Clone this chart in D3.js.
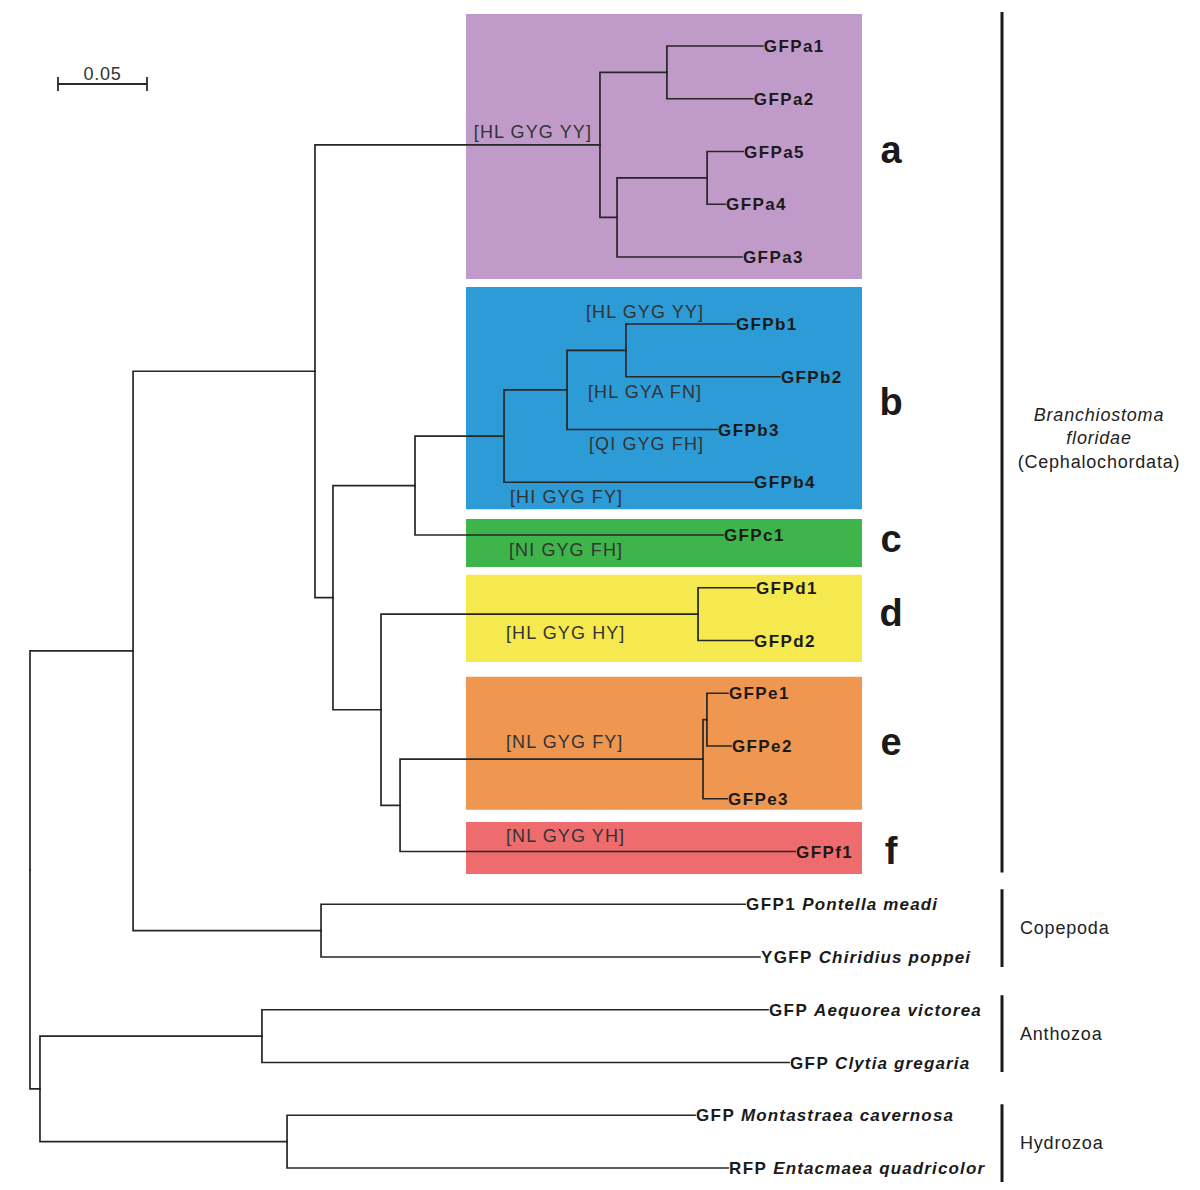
<!DOCTYPE html>
<html><head><meta charset="utf-8">
<script src="https://cdn.jsdelivr.net/npm/d3@7"></script>
<style>body{margin:0;background:#fff} svg{display:block}</style>
</head><body><svg id="c" width="1200" height="1190"></svg>
<script>
// ---------- DATA ----------
// Tree topology: node id, parent id, branch length (substitutions / site)
const nodeIds = ["root","A","C","a","a12","GFPa1","GFPa2","a345","a45","GFPa5","GFPa4","GFPa3",
  "D","bc","b","b123","b12","GFPb1","GFPb2","GFPb3","GFPb4","GFPc1",
  "def","d","GFPd1","GFPd2","ef","e","e12","GFPe1","GFPe2","GFPe3","GFPf1",
  "cope","Pontella","Chiridius","B","anth","Aequorea","Clytia","hydro","Montastraea","Entacmaea"];
const parentIds = ["","root","A","C","a","a12","a12","a","a345","a45","a45","a345",
  "C","D","bc","b","b123","b12","b12","b123","b","bc",
  "D","def","d","d","def","ef","e","e12","e12","e","ef",
  "A","cope","cope","root","B","anth","anth","B","hydro","hydro"];
const branchLengths = [0,0.0579,0.1022,0.1601,0.0376,0.0539,0.0483,0.0096,0.0506,0.0202,0.0101,0.0702,
  0.0101,0.0461,0.0500,0.0354,0.0331,0.0612,0.0865,0.0843,0.1399,0.1730,
  0.0270,0.1781,0.0320,0.0309,0.0107,0.1702,0.0022,0.0118,0.0135,0.0135,0.2219,
  0.1056,0.2382,0.2466,0.0056,0.1247,0.2843,0.2961,0.1388,0.2292,0.2478];

// Leaf labels
const leafIds     = ["Pontella","Chiridius","Aequorea","Clytia","Montastraea","Entacmaea"];
const leafPrefix  = ["GFP1","YGFP","GFP","GFP","GFP","RFP"];
const leafSpecies = ["Pontella meadi","Chiridius poppei","Aequorea victorea","Clytia gregaria","Montastraea cavernosa","Entacmaea quadricolor"];

// Clades of Branchiostoma GFPs
const cladeLetters = ["a","b","c","d","e","f"];
const cladeNodes   = ["a","b","GFPc1","d","e","GFPf1"];
const cladeColors  = ["#c09bc9","#2c9bd6","#3db54a","#f6e84f","#ef9650","#ee6c6e"];

// Chromophore-region motifs
const motifNodes = ["a","GFPb1","GFPb2","GFPb3","GFPb4","GFPc1","d","e","GFPf1"];
const motifTexts = ["[HL GYG YY]","[HL GYG YY]","[HL GYA FN]","[QI GYG FH]","[HI GYG FY]","[NI GYG FH]","[HL GYG HY]","[NL GYG FY]","[NL GYG YH]"];

// Taxonomic groups (first leaf, last leaf)
const groupFirst = ["GFPa1","Pontella","Aequorea","Montastraea"];
const groupLast  = ["GFPf1","Chiridius","Clytia","Entacmaea"];
const groupNames = [["Branchiostoma","floridae","(Cephalochordata)"],["Copepoda"],["Anthozoa"],["Hydrozoa"]];

const scaleBarValue = 0.05;

// ---------- LAYOUT ----------
const svg = d3.select("#c");
const x = d3.scaleLinear().domain([0, scaleBarValue]).range([30, 119]);
const rowStep = 52.75, firstRowY = 46, cladeAGap = 14.25;
const rowY = d3.scaleLinear().domain([0, 1]).range([firstRowY, firstRowY + rowStep]);

const table = nodeIds.map((id, i) => ({id, parent: parentIds[i] || null, len: branchLengths[i]}));
const root = d3.stratify().id(d => d.id).parentId(d => d.parent)(table);
root.eachBefore(n => { n.dist = (n.parent ? n.parent.dist : 0) + n.data.len; n.px = x(n.dist); });
root.leaves().forEach((l, i) => { l.py = rowY(i) + (i >= 5 ? cladeAGap : 0); });
root.eachAfter(n => { if (n.children) n.py = (n.children[0].py + n.children[n.children.length - 1].py) / 2; });
const byId = new Map(root.descendants().map(n => [n.id, n]));
const extent = n => d3.extent(n.leaves(), l => l.py);

// clade boxes
const boxPad = {a:[32,22], b:[37,27], c:[16,32], d:[13,21.5], e:[16.5,11], f:[29.5,22.5]};
const letterDy = {a:11, b:12, c:17, d:12, e:9, f:12};
const boxX0 = 466, boxX1 = 862;
cladeLetters.forEach((c, i) => {
  const [y0, y1] = extent(byId.get(cladeNodes[i]));
  svg.append("rect").attr("x", boxX0).attr("y", y0 - boxPad[c][0])
    .attr("width", boxX1 - boxX0).attr("height", (y1 + boxPad[c][1]) - (y0 - boxPad[c][0]))
    .attr("fill", cladeColors[i]);
  svg.append("text").attr("x", 891).attr("y", (y0 + y1) / 2 + letterDy[c])
    .attr("text-anchor", "middle").attr("font-family", "Liberation Sans, Arial, sans-serif")
    .attr("font-weight", "bold").attr("font-size", 38).attr("fill", "#1a1a1a").text(c);
});

// branches (elbow links)
svg.append("g").selectAll("path").data(root.descendants().filter(n => n.parent)).join("path")
  .attr("d", n => `M${n.parent.px},${n.parent.py}V${n.py}H${n.px}`)
  .attr("fill", "none").attr("stroke", "#262626").attr("stroke-width", 1.7)
  .attr("stroke-linecap", "square");

// leaf labels
const labelFont = "Liberation Sans, Arial, sans-serif";
const lg = svg.append("g").attr("font-family", labelFont).attr("font-weight", "bold")
  .attr("font-size", 17).attr("letter-spacing", 1.4).attr("fill", "#1a1a1a");
root.leaves().forEach(l => {
  const t = lg.append("text").attr("x", l.px + 1).attr("y", l.py + 6);
  const k = leafIds.indexOf(l.id);
  if (k < 0) t.text(l.id);
  else {
    t.append("tspan").text(leafPrefix[k] + " ");
    t.append("tspan").attr("font-style", "italic").attr("letter-spacing", 1.15).text(leafSpecies[k]);
  }
});

// motif labels
const motifPos = {
  "a": {x: 592, anchor: "end", dy: -7},
  "GFPb1": {x: 586, anchor: "start", dy: -6},
  "GFPb2": {x: 588, anchor: "start", dy: 21},
  "GFPb3": {x: 589, anchor: "start", dy: 20},
  "GFPb4": {x: 510, anchor: "start", dy: 21},
  "GFPc1": {x: 509, anchor: "start", dy: 21},
  "d": {x: 506, anchor: "start", dy: 25},
  "e": {x: 506, anchor: "start", dy: -11},
  "GFPf1": {x: 506, anchor: "start", dy: -10}
};
const mg = svg.append("g").attr("font-family", labelFont).attr("font-size", 18)
  .attr("letter-spacing", 1.1).attr("fill", "#333");
motifNodes.forEach((id, i) => {
  const n = byId.get(id), p = motifPos[id];
  mg.append("text").attr("x", p.x).attr("y", n.py + p.dy).attr("text-anchor", p.anchor).text(motifTexts[i]);
});

// taxonomic group brackets
const groupPad = [[34, 21], [15, 10], [14.5, 9.5], [11, 14]];
const gg = svg.append("g").attr("font-family", labelFont).attr("font-size", 18)
  .attr("letter-spacing", 0.8).attr("fill", "#222");
groupNames.forEach((lines, i) => {
  const y0 = byId.get(groupFirst[i]).py - groupPad[i][0];
  const y1 = byId.get(groupLast[i]).py + groupPad[i][1];
  svg.append("line").attr("x1", 1002).attr("x2", 1002).attr("y1", y0).attr("y2", y1)
    .attr("stroke", "#1a1a1a").attr("stroke-width", 3);
  if (lines.length === 1) {
    gg.append("text").attr("x", 1020).attr("y", (y0 + y1) / 2 + 6).text(lines[0]);
  } else {
    const cy = 438;
    lines.forEach((s, j) => {
      gg.append("text").attr("x", 1099).attr("y", cy + (j - 1) * 23.5 + 6)
        .attr("text-anchor", "middle").attr("font-style", j < 2 ? "italic" : "normal").text(s);
    });
  }
});

// scale bar
const sbX = 58, sbY = 84, sbW = x(scaleBarValue) - x(0);
const sb = svg.append("g").attr("stroke", "#2b2b2b").attr("stroke-width", 1.8);
sb.append("line").attr("x1", sbX).attr("x2", sbX + sbW).attr("y1", sbY).attr("y2", sbY);
sb.append("line").attr("x1", sbX).attr("x2", sbX).attr("y1", sbY - 7).attr("y2", sbY + 7);
sb.append("line").attr("x1", sbX + sbW).attr("x2", sbX + sbW).attr("y1", sbY - 7).attr("y2", sbY + 7);
svg.append("text").attr("x", sbX + sbW / 2).attr("y", sbY - 4).attr("text-anchor", "middle")
  .attr("font-family", labelFont).attr("font-size", 18).attr("letter-spacing", 0.8).attr("fill", "#333")
  .text(d3.format(".2f")(scaleBarValue));
</script></body></html>
